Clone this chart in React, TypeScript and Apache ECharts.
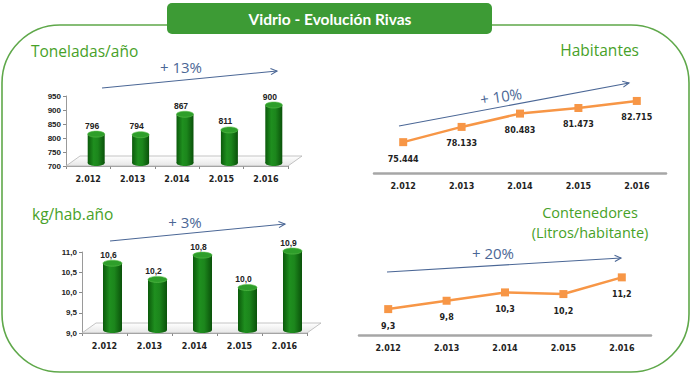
import React, { useEffect, useRef } from "react";
import * as echarts from "echarts";

const years = ["2.012", "2.013", "2.014", "2.015", "2.016"];
const toneladas = [796, 794, 867, 811, 900];
const kgHabAno = [10.6, 10.2, 10.8, 10.0, 10.9];
const habitantes = [75444, 78133, 80483, 81473, 82715];
const contenedores = [9.3, 9.8, 10.3, 10.2, 11.2];

const GREEN = "#47a128";
const BLUE = "#4b6796";
const ORANGE = "#f79646";
const NUM_FONT = "DejaVu Sans";
const TITLE_FONT = "Open Sans";

const comma1 = (v: number) => v.toFixed(1).replace(".", ",");
const thousands = (v: number) => String(v).replace(/\B(?=(\d{3})+(?!\d))/g, ".");

function arrow(x1: number, y1: number, x2: number, y2: number) {
  const a = Math.atan2(y2 - y1, x2 - x1);
  const L = 7;
  const s = 0.45;
  return {
    type: "group",
    silent: true,
    children: [
      { type: "line", shape: { x1, y1, x2, y2 }, style: { stroke: BLUE, lineWidth: 1.1 } },
      {
        type: "polyline",
        shape: {
          points: [
            [x2 - L * Math.cos(a - s), y2 - L * Math.sin(a - s)],
            [x2, y2],
            [x2 - L * Math.cos(a + s), y2 - L * Math.sin(a + s)],
          ],
        },
        style: { stroke: BLUE, lineWidth: 1.1, fill: null },
      },
    ],
  };
}

function floorItem(params: any, api: any) {
  const cs = params.coordSys;
  const x = cs.x, y = cs.y + cs.height, w = cs.width;
  const dx = 14, dy = 10;
  return {
    type: "polygon",
    shape: { points: [[x, y], [x + w, y], [x + w + dx, y - dy], [x + dx, y - dy]] },
    style: {
      fill: new echarts.graphic.LinearGradient(0, 0, 0, 1, [
        { offset: 0, color: "#ffffff" },
        { offset: 1, color: "#e6e6e6" },
      ]),
      stroke: "#b5b5b5",
      lineWidth: 0.8,
    },
    silent: true,
  };
}

function cylinder(barW: number, yMin: number, fmt: (v: number) => string) {
  return (params: any, api: any) => {
    const i = api.value(0);
    const v = api.value(1);
    const top = api.coord([i, v]);
    const base = api.coord([i, yMin]);
    const dx = 8, dy = -5;
    const cx = top[0] + dx;
    const ty = top[1] + dy;
    const by = base[1] + dy + 2;
    const rx = barW / 2, ry = 3;
    const body = new echarts.graphic.LinearGradient(0, 0, 1, 0, [
      { offset: 0, color: "#0b5a0b" },
      { offset: 0.35, color: "#1f8f1f" },
      { offset: 0.6, color: "#1c861c" },
      { offset: 1, color: "#0a520a" },
    ]);
    return {
      type: "group",
      children: [
        { type: "ellipse", shape: { cx, cy: by, rx, ry }, style: { fill: body } },
        { type: "rect", shape: { x: cx - rx, y: ty, width: barW, height: by - ty }, style: { fill: body } },
        {
          type: "ellipse",
          shape: { cx, cy: ty, rx, ry },
          style: { fill: "#2e9e2a", stroke: "#5cbf4e", lineWidth: 0.6 },
        },
        {
          type: "text",
          style: {
            text: fmt(v),
            x: cx - 4,
            y: ty - 4,
            align: "center",
            verticalAlign: "bottom",
            fontFamily: "Liberation Sans",
            fontWeight: "bold",
            fontSize: 8.5,
            fill: "#222",
          },
        },
      ],
    };
  };
}

const catAxisBar = (gridIndex: number) => ({
  type: "category",
  gridIndex,
  data: years,
  boundaryGap: true,
  axisLine: { show: true, lineStyle: { color: "#9a9a9a", width: 1 } },
  axisTick: { show: true, length: 3, lineStyle: { color: "#8a8a8a" } },
  axisLabel: { margin: 9, fontFamily: NUM_FONT, fontWeight: "bold", fontSize: 8, color: "#222" },
});

const catAxisLine = (gridIndex: number) => ({
  type: "category",
  gridIndex,
  data: years,
  boundaryGap: true,
  axisLine: { show: true, lineStyle: { color: "#a6a6a6", width: 2.5 } },
  axisTick: { show: false },
  axisLabel: { margin: 9, fontFamily: NUM_FONT, fontWeight: "bold", fontSize: 8, color: "#222" },
});

const valAxisBar = (gridIndex: number, min: number, max: number, interval: number, fmt: (v: number) => string) => ({
  type: "value",
  gridIndex,
  min,
  max,
  interval,
  axisLine: { show: true, lineStyle: { color: "#9a9a9a" } },
  axisTick: { show: true, length: 3, lineStyle: { color: "#8a8a8a" } },
  splitLine: { show: false },
  axisLabel: {
    margin: 5,
    fontFamily: "Liberation Sans",
    fontWeight: "bold",
    fontSize: 8,
    color: "#222",
    formatter: fmt,
  },
});

const lineSeries = (idx: number, data: number[], fmt: (v: number) => string) => ({
  type: "line",
  xAxisIndex: idx,
  yAxisIndex: idx,
  data,
  symbol: "rect",
  symbolSize: 8,
  lineStyle: { color: ORANGE, width: 2.5 },
  itemStyle: { color: ORANGE },
  label: {
    show: true,
    position: "bottom",
    distance: 9,
    fontFamily: NUM_FONT,
    fontWeight: "bold",
    fontSize: 8,
    color: "#222",
    formatter: (p: any) => fmt(p.value),
  },
});

const titleText = (x: number, y: number, text: string, align: string, fontSize = 15.5) => ({
  type: "text",
  x,
  y,
  silent: true,
  style: {
    text,
    align,
    verticalAlign: "middle",
    fontFamily: TITLE_FONT,
    fontSize,
    fill: GREEN,
  },
});

const pctText = (x: number, y: number, text: string, rotation = 0) => ({
  type: "text",
  x,
  y,
  rotation,
  silent: true,
  style: {
    text,
    align: "center",
    verticalAlign: "middle",
    fontFamily: TITLE_FONT,
    fontSize: 15,
    fill: BLUE,
  },
});

export default function App() {
  const ref = useRef<HTMLDivElement>(null);
  useEffect(() => {
    document.body.style.margin = "0";
    const chart = echarts.init(ref.current!, undefined, { renderer: "svg" });
    chart.setOption({
      animation: false,
      backgroundColor: "#ffffff",
      grid: [
        { left: 66, top: 96, width: 222, height: 70 },
        { left: 82, top: 252, width: 225, height: 81 },
        { left: 374, top: 88, width: 292, height: 85 },
        { left: 359, top: 264, width: 292, height: 71 },
      ],
      xAxis: [catAxisBar(0), catAxisBar(1), catAxisLine(2), catAxisLine(3)],
      yAxis: [
        valAxisBar(0, 700, 950, 50, (v: number) => String(v)),
        valAxisBar(1, 9, 11, 0.5, comma1),
        { type: "value", gridIndex: 2, min: 70000, max: 85000, show: false },
        { type: "value", gridIndex: 3, min: 7.75, max: 12, show: false },
      ],
      series: [
        {
          type: "custom",
          xAxisIndex: 0,
          yAxisIndex: 0,
          data: [[0, 700]],
          renderItem: floorItem,
          z: 1,
          silent: true,
        },
        {
          type: "custom",
          name: "Toneladas/año",
          xAxisIndex: 0,
          yAxisIndex: 0,
          data: toneladas.map((v, i) => [i, v]),
          encode: { x: 0, y: 1 },
          renderItem: cylinder(17, 700, (v) => String(v)),
          z: 3,
        },
        {
          type: "custom",
          xAxisIndex: 1,
          yAxisIndex: 1,
          data: [[0, 9]],
          renderItem: floorItem,
          z: 1,
          silent: true,
        },
        {
          type: "custom",
          name: "kg/hab.año",
          xAxisIndex: 1,
          yAxisIndex: 1,
          data: kgHabAno.map((v, i) => [i, v]),
          encode: { x: 0, y: 1 },
          renderItem: cylinder(19, 9, comma1),
          z: 3,
        },
        lineSeries(2, habitantes, thousands),
        lineSeries(3, contenedores, comma1),
      ],
      graphic: [
        {
          type: "rect",
          shape: { x: 2, y: 25, width: 687, height: 347, r: 58 },
          style: { fill: null, stroke: "#5fa84a", lineWidth: 1.6 },
          silent: true,
          z: -1,
        },
        {
          type: "rect",
          shape: { x: 167, y: 3, width: 325, height: 31, r: 5 },
          style: { fill: "#3d9b35" },
          silent: true,
        },
        {
          type: "text",
          x: 330,
          y: 19,
          silent: true,
          style: {
            text: "Vidrio - Evolución Rivas",
            align: "center",
            verticalAlign: "middle",
            fontFamily: "Lato",
            fontWeight: "bold",
            fontSize: 15.5,
            fill: "#ffffff",
          },
        },
        titleText(31, 51, "Toneladas/año", "left"),
        titleText(32, 214, "kg/hab.año", "left"),
        titleText(639, 50, "Habitantes", "right"),
        titleText(590, 212, "Contenedores", "center", 14.5),
        titleText(590, 232.5, "(Litros/habitante)", "center", 14.5),
        pctText(181, 67, "+ 13%"),
        pctText(185, 222, "+ 3%"),
        pctText(501, 96, "+ 10%", 0.14),
        pctText(493, 253, "+ 20%"),
        arrow(102, 88, 277, 71),
        arrow(110, 241, 285, 224),
        arrow(399, 126, 629, 83),
        arrow(387, 272, 621, 258),
      ],
    });
    return () => chart.dispose();
  }, []);
  return <div ref={ref} style={{ width: 692, height: 377 }} />;
}
